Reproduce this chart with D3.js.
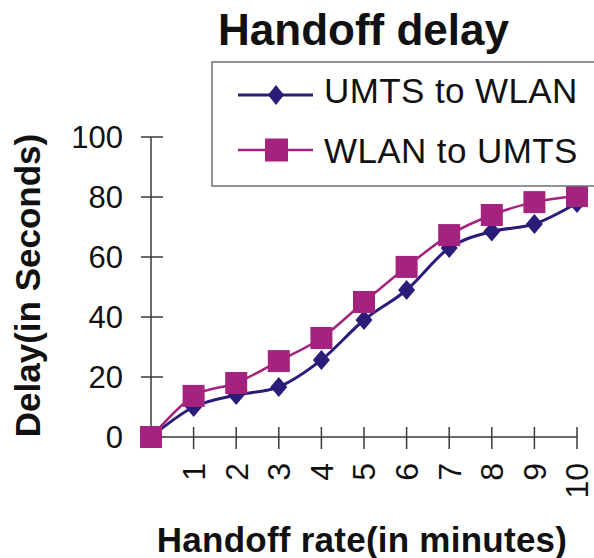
<!DOCTYPE html>
<html>
<head>
<meta charset="utf-8">
<script src="https://cdn.jsdelivr.net/npm/d3@7"></script>
<style>
  html, body { margin: 0; padding: 0; background: #fff; }
  svg { display: block; font-family: "Liberation Sans", Arial, sans-serif; }
</style>
</head>
<body>
<svg id="chart" width="594" height="558"></svg>
<script>
// ---- data ----
const categories = [0, 1, 2, 3, 4, 5, 6, 7, 8, 9, 10];
const xTickLabels = ["1", "2", "3", "4", "5", "6", "7", "8", "9", "10"];
const umtsToWlan = [0, 10, 14, 16.7, 25.7, 39, 49, 63, 68.5, 71, 78];
const wlanToUmts = [0, 13.7, 18, 25.3, 33, 45, 56.7, 67.3, 74, 78.3, 80.3];
const yTicks = [0, 20, 40, 60, 80, 100];
const seriesNames = ["UMTS to WLAN", "WLAN to UMTS"];

const blue = "#2b1c7a";
const magenta = "#a3237e";
const axisColor = "#3a3a3a";

const svg = d3.select("#chart");

const x = d3.scalePoint().domain(categories).range([151, 577]);
const y = d3.scaleLinear().domain([0, 100]).range([437, 137]);

// title
svg.append("text")
  .attr("x", 363.5).attr("y", 45)
  .attr("text-anchor", "middle")
  .attr("font-size", 44).attr("font-weight", "bold").attr("fill", "#111")
  .text("Handoff delay");

// y axis
svg.append("line")
  .attr("x1", x(0)).attr("x2", x(0))
  .attr("y1", y(100)).attr("y2", y(0))
  .attr("stroke", axisColor).attr("stroke-width", 1.5);
svg.selectAll(".ytick").data(yTicks).enter().append("line")
  .attr("x1", x(0) - 10).attr("x2", x(0) + 12)
  .attr("y1", d => y(d)).attr("y2", d => y(d))
  .attr("stroke", axisColor).attr("stroke-width", 1.5);
svg.selectAll(".ylab").data(yTicks).enter().append("text")
  .attr("x", 123).attr("y", d => y(d))
  .attr("dy", "0.355em")
  .attr("text-anchor", "end")
  .attr("font-size", 31).attr("fill", "#111")
  .text(d => d);

// x axis
svg.append("line")
  .attr("x1", x(0)).attr("x2", x(10))
  .attr("y1", y(0)).attr("y2", y(0))
  .attr("stroke", axisColor).attr("stroke-width", 1.5);
svg.selectAll(".xtick").data(categories.slice(1)).enter().append("line")
  .attr("x1", d => x(d)).attr("x2", d => x(d))
  .attr("y1", y(0) - 10).attr("y2", y(0) + 12)
  .attr("stroke", axisColor).attr("stroke-width", 1.5);
svg.selectAll(".xlab").data(xTickLabels).enter().append("text")
  .attr("transform", (d, i) => `translate(${x(categories[i + 1])},463) rotate(-90)`)
  .attr("dy", "0.355em")
  .attr("text-anchor", "end")
  .attr("font-size", 32).attr("fill", "#111")
  .text(d => d);

// axis titles
svg.append("text")
  .attr("transform", "translate(40,285.5) rotate(-90)")
  .attr("text-anchor", "middle")
  .attr("font-size", 35).attr("font-weight", "bold").attr("fill", "#111")
  .text("Delay(in Seconds)");
svg.append("text")
  .attr("x", 362).attr("y", 552)
  .attr("text-anchor", "middle")
  .attr("font-size", 35).attr("font-weight", "bold").attr("fill", "#111")
  .attr("letter-spacing", 0.25)
  .text("Handoff rate(in minutes)");

// lines
const line = d3.line()
  .x((d, i) => x(categories[i]))
  .y(d => y(d))
  .curve(d3.curveCardinal.tension(0));

svg.append("path").datum(umtsToWlan)
  .attr("d", line).attr("fill", "none")
  .attr("stroke", blue).attr("stroke-width", 3);
svg.append("path").datum(wlanToUmts)
  .attr("d", line).attr("fill", "none")
  .attr("stroke", magenta).attr("stroke-width", 2.5);

const diamond = (cx, cy, w, h) => `M${cx},${cy - h}L${cx + w},${cy}L${cx},${cy + h}L${cx - w},${cy}Z`;

svg.selectAll(".dia").data(umtsToWlan).enter().append("path")
  .attr("d", (d, i) => diamond(x(categories[i]), y(d), 8.5, 10))
  .attr("fill", blue);
svg.selectAll(".sq").data(wlanToUmts).enter().append("rect")
  .attr("x", (d, i) => x(categories[i]) - 11)
  .attr("y", d => y(d) - 11)
  .attr("width", 22).attr("height", 22)
  .attr("fill", magenta);

// legend
const lg = svg.append("g");
lg.append("rect")
  .attr("x", 212).attr("y", 62).attr("width", 400).attr("height", 124)
  .attr("fill", "#fff").attr("stroke", "#707070").attr("stroke-width", 1.5);
const rows = [
  { name: seriesNames[0], color: blue, ly: 95, ty: 103, marker: "diamond" },
  { name: seriesNames[1], color: magenta, ly: 150, ty: 163, marker: "square" }
];
rows.forEach(r => {
  lg.append("line")
    .attr("x1", 238).attr("x2", 313).attr("y1", r.ly).attr("y2", r.ly)
    .attr("stroke", r.color).attr("stroke-width", r.marker === "diamond" ? 3 : 2.5);
  if (r.marker === "diamond") {
    lg.append("path").attr("d", diamond(276, r.ly, 8, 10)).attr("fill", r.color);
  } else {
    lg.append("rect").attr("x", 265).attr("y", r.ly - 11.5)
      .attr("width", 23).attr("height", 23).attr("fill", r.color);
  }
  lg.append("text")
    .attr("x", 324).attr("y", r.ty)
    .attr("font-size", 35).attr("fill", "#111")
    .attr("letter-spacing", 0.4)
    .text(r.name);
});
</script>
</body>
</html>
